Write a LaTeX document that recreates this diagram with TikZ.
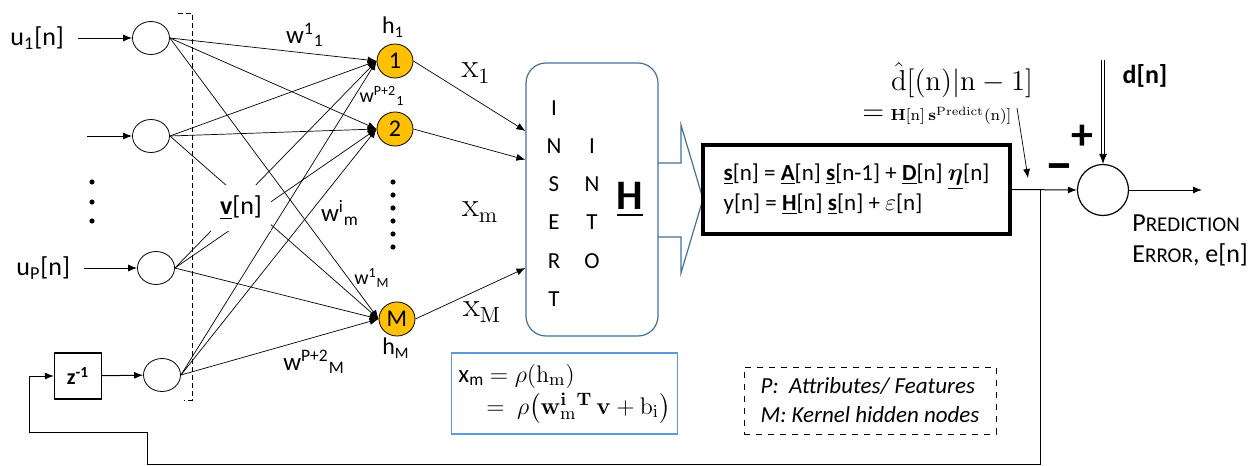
\documentclass[tikz,border=0pt]{standalone}
\usepackage{amsmath}
\usepackage{amssymb}
\usepackage[no-math]{fontspec}
\setmainfont{Carlito}
\usepackage{tikz}
\usetikzlibrary{shapes.geometric,arrows.meta,positioning,calc}

\definecolor{hidfill}{HTML}{FFC000}
\definecolor{insblue}{HTML}{41719C}
\definecolor{eqblue}{HTML}{5B9BD5}

\newcommand{\fsz}[1]{\fontsize{#1}{#1}\selectfont}

\tikzset{
  inode/.style={ellipse, draw, minimum width=18.5pt, minimum height=16.5pt, inner sep=0pt},
  hnode/.style={ellipse, draw, fill=hidfill, minimum width=18pt, minimum height=17pt, inner sep=0pt, font=\fsz{12}},
  wgt/.style={-{Latex[length=4.5pt,width=3.5pt]}, line width=0.35pt},
  flow/.style={-{Latex[length=4.5pt,width=3.5pt]}, line width=0.5pt},
  wlab/.style={font=\fsz{12.5}, inner sep=0pt},
  swlab/.style={font=\fsz{10}, inner sep=0pt},
  xlab/.style={font=\fsz{16}, inner sep=0pt},
  letter/.style={font=\fsz{11.5}, inner sep=0pt},
}

\begin{document}
\begin{tikzpicture}[x=0.5pt,y=-0.5pt]
    \useasboundingbox (0,0) rectangle (1260,466);

    % input layer
    \node[inode] (i1) at (151,38) {};
    \node[inode] (i2) at (151,136) {};
    \node[inode] (ip) at (156,268) {};
    \node[inode] (ifb) at (162,375) {};
    \node[font=\fsz{13}, anchor=west, inner sep=0pt] (u1) at (10,38) {u\textsubscript{1}[n]};
    \node[font=\fsz{13}, anchor=west, inner sep=0pt] (up) at (16,268) {u\textsubscript{P}[n]};
    \coordinate (u2) at (87,136);
    \draw[flow] ([xshift=7pt]u1.east) -- (i1.west);
    \draw[flow] (u2) -- (i2.west);
    \draw[flow] ([xshift=7pt]up.east) -- (ip.west);
    \foreach \y in {182,202,221}
        \fill (92,\y) circle (1.3pt);

    % delay in the feedback branch
    \node[draw, line width=0.6pt, minimum width=23.5pt, minimum height=23pt, inner sep=0pt, font=\bfseries\fsz{11}] (zd) at (78,376) {z\textsuperscript{-1}};
    \draw[flow] (zd) -- (ifb);

    \draw[dashed, dash pattern=on 2.5pt off 1.5pt, line width=0.5pt] (178,13) -- (192,13) -- (192,400) -- (184,400);

    % hidden (kernel) layer
    \node[hnode] (h1) at (395,61) {1};
    \node[hnode] (h2) at (395,129) {2};
    \node[hnode] (hM) at (397,319) {M};
    \node[font=\fsz{12}, inner sep=0pt] (h1lab) at (393,27) {h\textsubscript{1}};
    \node[font=\fsz{12}, inner sep=0pt] (hMlab) at (396,348) {h\textsubscript{M}};
    \foreach \y in {182,195,208,221,234,247}
        \fill (393,\y) circle (1.3pt);

    \foreach \s in {i1,i2,ip,ifb}
        \foreach \t in {h1,h2,hM}
            \draw[wgt] (\s.east) -- (\t.west);

    \node[fill=white, minimum width=30pt, minimum height=23pt, font=\fsz{13}] (vlab) at (241,208) {\underline{\textbf{v}}[n]};

    \node[wlab] (w11) at (305,35) {w\textsuperscript{1}\textsubscript{1}};
    \node[swlab] (wp1) at (382,96) {w\textsuperscript{P+2}\textsubscript{1}};
    \node[wlab] (wim) at (340,213) {w\textsuperscript{i}\textsubscript{m}};
    \node[swlab] (w1M) at (372,278) {w\textsuperscript{1}\textsubscript{M}};
    \node[wlab] (wpM) at (314,362) {w\textsuperscript{P+2}\textsubscript{M}};

    % insert into H
    \node[draw=insblue, line width=0.6pt, rounded corners=10pt, minimum width=66pt, minimum height=136.5pt] (ins) at (592,199.5) {};
    \draw[wgt] (h1.east) -- ($(ins.north west)!0.25!(ins.south west)$);
    \draw[wgt] (h2.east) -- ($(ins.north west)!0.355!(ins.south west)$);
    \draw[wgt] (hM.east) -- ($(ins.north west)!0.75!(ins.south west)$);
    \node[xlab] (x1) at (476,73) {$\mathrm{x}_1$};
    \node[xlab] (xm) at (480,212) {$\mathrm{x}_\mathrm{m}$};
    \node[xlab] (xM) at (482,312) {$\mathrm{x}_\mathrm{M}$};

    \foreach \l [count=\k from 0] in {I,N,S,E,R,T}
        \node[letter] (a\k) at (554,108+38.2*\k) {\l};
    \foreach \l [count=\k from 1] in {I,N,T,O}
        \node[letter] (b\k) at (592,108+38.2*\k) {\l};
    \node[font=\bfseries\fsz{21}, inner sep=0pt] (Hbig) at (630,200) {\underline{H}};

    \draw[insblue, line width=0.6pt] (658,163) -- (681,163) -- (681,125) -- (703,199) -- (681,273) -- (681,237) -- (658,237);

    % state-space model
    \node[draw, line width=1.6pt, minimum width=153.5pt, minimum height=44.5pt, inner xsep=8pt, align=left, font=\fontsize{11.5}{15}\selectfont] (state) at (856.5,189.5)
        {\underline{\textbf{s}}[n] = \underline{\textbf{A}}[n] \underline{\textbf{s}}[n-1] + \underline{\textbf{D}}[n] \underline{$\boldsymbol{\eta}$}[n]\\
         y[n] = \underline{\textbf{H}}[n] \underline{\textbf{s}}[n] + $\varepsilon$[n]};

    \node[font=\fsz{15}, inner sep=0pt] (dh) at (962,80) {$\hat{\mathrm{d}}[(\mathrm{n})|\mathrm{n}-1]$};
    \node[font=\fsz{14}, inner sep=0pt, anchor=west] (dh2) at (862,116) {$=$\ {\fsz{8}$\mathbf{H}[\mathrm{n}]\ \mathbf{s}^{\mathrm{Predict}}(\mathrm{n})]$}};
    \coordinate (dtail) at (1017,108);
    \coordinate (dtip) at (1028,178);
    \draw[wgt] (dtail) -- (dtip);

    % prediction error
    \node[circle, draw, line width=0.6pt, minimum size=25.5pt, inner sep=0pt] (sum) at (1103,190) {};
    \draw[flow] (state.east) -- (sum.west);
    \coordinate (jn) at (1040,190);
    \draw[flow] (jn) |- (147,464) |- (29,432) |- (zd.west);
    \coordinate (dsrc) at (1103,60);
    \draw[double, double distance=1.2pt, line width=0.4pt, -{Latex[length=5pt,width=4pt]}] (dsrc) -- (sum.north);
    \node[font=\bfseries\fsz{13}, inner sep=0pt] (dlab) at (1145,76) {d[n]};
    \node[font=\bfseries\fsz{22}, inner sep=0pt] (plus) at (1082,137) {+};
    \node[font=\bfseries\fsz{26}, inner sep=0pt] (minus) at (1059,173) {−};
    \coordinate (eout) at (1202,190);
    \draw[flow] (sum.east) -- (eout);
    \node[anchor=north west, align=left, inner sep=0pt, font=\fontsize{13}{15.5}\selectfont] (perr) at (1132,214)
        {P{\fsz{10.5}REDICTION}\\E{\fsz{10.5}RROR}, e[n]};

    % activation and legend
    \node[draw=eqblue, line width=0.6pt, minimum width=108.5pt, minimum height=40.5pt, align=left, font=\fontsize{12.5}{16}\selectfont] (eqbox) at (564.5,393.5)
        {x\textsubscript{m} $=\rho(\mathrm{h}_\mathrm{m})$\\
         \hspace*{14pt}$=\ \rho\bigl(\mathbf{w}^{\mathbf{i}}_{\mathrm{m}}{}^{\mathbf{T}}\,\mathbf{v}+\mathrm{b}_\mathrm{i}\bigr)$};

    \node[draw, dashed, line width=0.5pt, minimum width=126pt, minimum height=33.5pt, align=left, font=\itshape\fontsize{11.5}{14.5}\selectfont] (legend) at (870,400.5)
        {P:\ \ Attributes/ Features\\M: Kernel hidden nodes};

\end{tikzpicture}
\end{document}
